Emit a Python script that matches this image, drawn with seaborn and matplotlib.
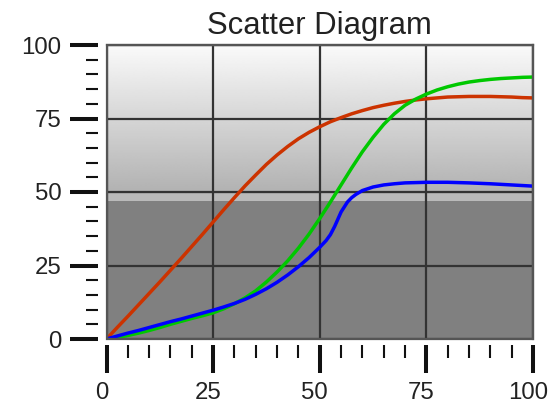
import numpy as np
import pandas as pd
import matplotlib
matplotlib.use("Agg")
import matplotlib.pyplot as plt
from matplotlib.patches import Rectangle
from matplotlib.ticker import MultipleLocator
from matplotlib.transforms import ScaledTranslation
import seaborn as sns

title = "Scatter Diagram"

red_x = [0, 2.5, 5, 7.5, 10, 12.5, 15, 17.5, 20, 22.5, 25, 27.5, 30, 32.5, 35, 37.5, 40, 42.5, 45, 47.5,
         50, 52.5, 55, 57.5, 60, 62.5, 65, 67.5, 70, 72.5, 75, 77.5, 80, 82.5, 85, 87.5, 90, 92.5, 95, 97.5, 100]
red_y = [0, 3.9, 7.7, 11.6, 15.5, 19.4, 23.4, 27.4, 31.5, 35.6, 39.8, 44.0, 48.1, 52.1, 55.8, 59.4, 62.6, 65.5, 68.1, 70.3,
         72.2, 73.9, 75.3, 76.6, 77.7, 78.7, 79.5, 80.2, 80.8, 81.3, 81.7, 82.0, 82.3, 82.4, 82.5, 82.5, 82.5, 82.4, 82.3, 82.1, 82.0]

green_x = [0, 2.5, 5, 7.5, 10, 12.5, 15, 17.5, 20, 22.5, 25, 27.5, 30, 32.5, 35, 37.5, 40, 42.5, 45, 47.5,
           50, 52.5, 55, 57.5, 60, 62.5, 65, 67.5, 70, 72.5, 75, 77.5, 80, 82.5, 85, 87.5, 90, 92.5, 95, 97.5, 100]
green_y = [0, 0.5, 1.2, 2.0, 2.9, 3.9, 5.0, 6.0, 7.0, 7.9, 8.9, 10.3, 12.0, 14.0, 16.4, 19.4, 22.8, 26.6, 30.9, 35.7,
           41.0, 46.6, 52.4, 58.2, 63.7, 68.6, 73.0, 76.6, 79.5, 81.6, 83.3, 84.7, 85.8, 86.7, 87.4, 87.9, 88.3, 88.6, 88.8, 89.0, 89.1]

blue_x = [0, 2.5, 5, 7.5, 10, 12.5, 15, 17.5, 20, 22.5, 25, 27.5, 30, 32.5, 35, 37.5, 40, 42.5, 45, 47.5,
          50, 51.5, 52.5, 53.5, 55, 56.5, 57.5, 58.5, 60, 62.5, 65, 67.5, 70, 75, 80, 85, 90, 95, 100]
blue_y = [0, 1.0, 2.0, 2.9, 3.9, 4.9, 5.9, 6.8, 7.8, 8.8, 9.8, 10.9, 12.1, 13.5, 15.2, 17.1, 19.3, 21.8, 24.6, 27.7,
          31.2, 33.5, 35.5, 38.3, 43.2, 46.6, 48.1, 49.2, 50.5, 51.7, 52.4, 52.8, 53.1, 53.3, 53.3, 53.1, 52.8, 52.4, 52.0]

series_names = ["red", "green", "blue"]
series_colors = ["#cc3300", "#00c800", "#0000ff"]

x_ticks = [0, 25, 50, 75, 100]
y_ticks = [0, 25, 50, 75, 100]

df = pd.concat([
    pd.DataFrame({"x": red_x, "y": red_y, "s": "red"}),
    pd.DataFrame({"x": green_x, "y": green_y, "s": "green"}),
    pd.DataFrame({"x": blue_x, "y": blue_y, "s": "blue"}),
], ignore_index=True)

sns.set_style("white")
plt.rcParams["font.family"] = ["Liberation Sans", "DejaVu Sans"]

fig = plt.figure(figsize=(5.51, 4.05), dpi=100)
ax = fig.add_axes([106.5 / 551, 1 - 339 / 405, (533 - 106.5) / 551, (339 - 45) / 405])

# background: gradient upper part, flat dark lower part
grad = np.linspace(0.68, 0.98, 256).reshape(-1, 1)
ax.imshow(grad, extent=[0, 100, 47, 100], origin="lower", cmap="gray",
          vmin=0, vmax=1, aspect="auto", zorder=0, interpolation="bilinear")
ax.axhspan(47, 49.3, color="#bababa", zorder=0.1, lw=0)
ax.axhspan(0, 47, color="#808080", zorder=0.1, lw=0)

sns.lineplot(data=df, x="x", y="y", hue="s", hue_order=series_names,
             palette=series_colors, sort=False, estimator=None,
             linewidth=2.5, legend=False, ax=ax, zorder=3)

ax.set_xlim(0, 100)
ax.set_ylim(0, 100)
ax.set_xlabel("")
ax.set_ylabel("")

ax.set_xticks(x_ticks)
ax.set_yticks(y_ticks)
ax.xaxis.set_minor_locator(MultipleLocator(5))
ax.yaxis.set_minor_locator(MultipleLocator(5))

ax.set_axisbelow("line")
ax.grid(True, which="major", color="#333333", linewidth=1.6)
ax.grid(False, which="minor")

for s in ["top", "right"]:
    ax.spines[s].set_color("#707070")
    ax.spines[s].set_linewidth(1.6)
ax.spines["left"].set_position(("outward", 5.8))
ax.spines["bottom"].set_position(("outward", 4.3))
ax.spines["left"].set_color("none")
ax.spines["bottom"].set_color("none")
ax.add_patch(Rectangle((0, 0), 1, 1, transform=ax.transAxes, fill=False,
                       edgecolor="#555555", linewidth=1.6, zorder=4, clip_on=False))

ax.tick_params(axis="both", which="major", direction="out", length=20, width=2.9,
               color="#111111", labelsize=17.3, labelcolor="#222222")
ax.tick_params(axis="both", which="minor", direction="out", length=9, width=1.5,
               color="#111111")
ax.tick_params(axis="y", which="major", pad=6.5)
ax.tick_params(axis="x", which="major", pad=7)
ax.tick_params(left=True, bottom=True, which="both")

shift = ScaledTranslation(-5 / 100, 0, fig.dpi_scale_trans)
for lab in ax.get_xticklabels():
    lab.set_transform(lab.get_transform() + shift)

ax.set_title(title, fontsize=22.3, color="#222222", pad=8)

fig.savefig("out.png", dpi=100)
